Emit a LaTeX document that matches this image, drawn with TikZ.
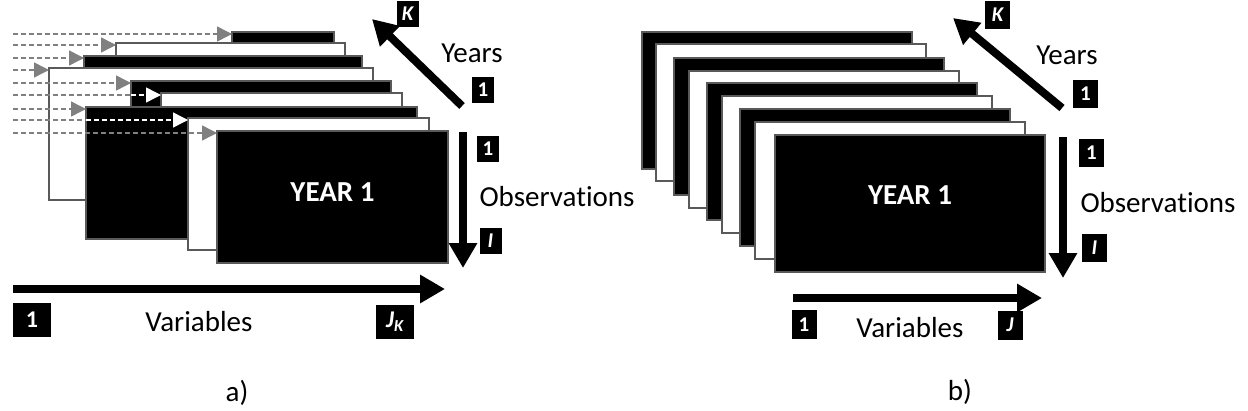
\documentclass[tikz,border=0pt]{standalone}
\usepackage{fontspec}
\setmainfont{Carlito}[Ligatures=NoCommon]
\usetikzlibrary{arrows.meta, calc}

\begin{document}
\begin{tikzpicture}[
		x=1pt, y=-1pt,
		% --- ESTILOS ---
		hoja/.style={
			rectangle, draw=black!65, line width=1.5pt, inner sep=0pt, outer sep=0pt,
			anchor=north west
		},
		titulo/.style={
			text=white, inner sep=0pt, font=\bfseries\fontsize{29}{34}\selectfont
		},
		txt/.style={
			inner sep=0pt, font=\fontsize{29}{34}\selectfont
		},
		tag/.style={
			rectangle, fill=black, text=white, inner sep=0pt,
			minimum width=22pt, minimum height=26pt, font=\bfseries\fontsize{21}{21}\selectfont
		},
		tagbig/.style={
			tag, minimum width=38pt, minimum height=34pt, font=\bfseries\fontsize{24}{24}\selectfont
		},
		tagb/.style={
			tag, minimum width=25pt, minimum height=28pt
		},
		eje/.style={
			draw, line width=8pt, -{Triangle[length=25pt,width=27pt]}
		},
		linea/.style={
			draw, gray, line width=1.5pt, dash pattern=on 5pt off 3pt
		},
		flecha/.style={
			linea, -{Triangle[length=15pt,width=15pt]}
		}
		]
		\useasboundingbox (0,0) rectangle (1248,410);
		
		% --- a) Pila de hojas con distinto numero de variables ---
		\foreach \n/\l/\t/\w/\c in {1/232/32/102/black, 2/116/43/229/white, 3/84/56/278/black,
			4/49/68/324/white, 5/131/81/260/black, 6/161/93/241/white,
			7/86/107/331/black, 8/188/118/241/white, 9/217/131/231/black}{
			\node [hoja, fill=\c, minimum width=\w pt, minimum height=132pt] (a\n) at (\l,\t) {};
			\coordinate (f\n) at (13,\t+2);
			\coordinate (e\n) at (\l,\t+2);
		}
		\node [titulo] (yeara) at ($(a9.center)+(0,-5)$) {YEAR 1};
		
		% Flechas discontinuas hacia cada hoja
		\foreach \n in {1,2,3,4,5,7,9}
			\draw [flecha] (f\n) -- (e\n);
		% estas dos caen sobre una hoja negra: tramo final en blanco
		\draw [linea] (f6) -- (f6 -| a5.west);
		\draw [flecha, white] (f6 -| a5.west) -- (e6);
		\draw [linea] (f8) -- (f8 -| a7.west);
		\draw [flecha, white] (f8 -| a7.west) -- (e8);
		
		% Ejes
		\coordinate (ya0) at (462,106);
		\coordinate (ya1) at (372,19);
		\draw [eje] (ya0) -- (ya1);
		\coordinate (oa0) at (463,132);
		\coordinate (oa1) at (463,268);
		\draw [eje] (oa0) -- (oa1);
		\coordinate (va0) at (13,289);
		\coordinate (va1) at (445,289);
		\draw [eje] (va0) -- (va1);
		
		% Etiquetas
		\node [tag] (ka) at (407.5,14) {\itshape K};
		\node [txt] (yrsa) at (472,53) {Years};
		\node [tag] (y1a) at (483,90) {1};
		\node [tag] (o1a) at (488,148.5) {1};
		\node [txt] (obsa) at (557,197) {Observations};
		\node [tag] (ia) at (490.5,241) {\itshape I};
		\node [tagbig] (v1a) at (32,320) {1};
		\node [txt] (vara) at (199,322) {Variables};
		\node [tagbig] (ja) at (395,321.5) {\itshape J\textsubscript{K}};
		\node [txt] (capa) at (237,393) {a)};
		
		% --- b) Pila de hojas iguales ---
		\foreach \n/\l/\t/\c in {1/642/32/black, 2/656/44/white, 3/674/58/black,
			4/689/71/white, 5/707/83/black, 6/722/96/white,
			7/740/109/black, 8/755/122/white, 9/775/135/black}
			\node [hoja, fill=\c, minimum width=270pt, minimum height=137pt] (b\n) at (\l,\t) {};
		\node [titulo] (yearb) at ($(b9.center)+(0,-8)$) {YEAR 1};
		
		% Ejes
		\coordinate (yb0) at (1062,108);
		\coordinate (yb1) at (953,18);
		\draw [eje] (yb0) -- (yb1);
		\coordinate (ob0) at (1063,137);
		\coordinate (ob1) at (1063,278);
		\draw [eje] (ob0) -- (ob1);
		\coordinate (vb0) at (793,298);
		\coordinate (vb1) at (1042,298);
		\draw [eje] (vb0) -- (vb1);
		
		% Etiquetas
		\node [tagb] (kb) at (997.5,15) {\itshape K};
		\node [txt] (yrsb) at (1067,55) {Years};
		\node [tagb] (y1b) at (1085.5,93.5) {1};
		\node [tagb] (o1b) at (1091.5,152.5) {1};
		\node [txt] (obsb) at (1158,203) {Observations};
		\node [tagb] (ib) at (1094.5,248) {\itshape I};
		\node [tagb, minimum height=29pt] (v1b) at (804,324.5) {1};
		\node [txt] (varb) at (910,328) {Variables};
		\node [tagb, minimum height=29pt] (jb) at (1010,325) {\itshape J};
		\node [txt] (capb) at (960,392) {b)};
		
	\end{tikzpicture}
\end{document}
